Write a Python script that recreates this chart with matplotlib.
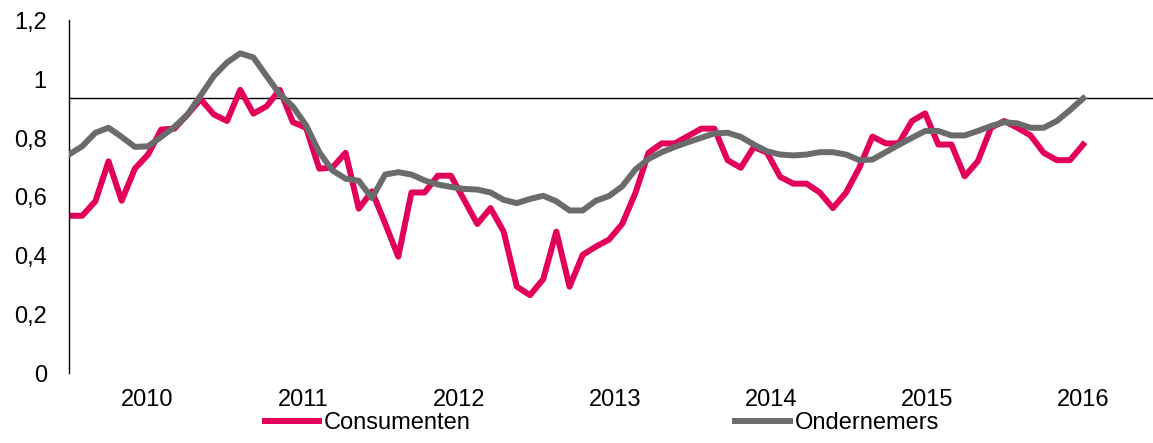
"""Consumenten vs Ondernemers indicator, monthly, 2009-2016."""

import matplotlib

matplotlib.use("Agg")
import matplotlib.pyplot as plt
import numpy as np

years = ["2010", "2011", "2012", "2013", "2014", "2015", "2016"]

consumenten = [
    0.536, 0.536, 0.585, 0.721, 0.587, 0.696, 0.744, 0.829, 0.832, 0.880,
    0.932, 0.880, 0.858, 0.964, 0.883, 0.908, 0.964, 0.854, 0.835, 0.696,
    0.700, 0.750, 0.560, 0.619, 0.510, 0.397, 0.615, 0.615, 0.672, 0.672,
    0.590, 0.508, 0.562, 0.482, 0.295, 0.266, 0.320, 0.482, 0.295, 0.403,
    0.431, 0.455, 0.508, 0.613, 0.750, 0.782, 0.782, 0.807, 0.832, 0.832,
    0.725, 0.699, 0.770, 0.750, 0.668, 0.645, 0.645, 0.615, 0.562, 0.615,
    0.699, 0.805, 0.782, 0.782, 0.858, 0.884, 0.778, 0.778, 0.670, 0.721,
    0.835, 0.858, 0.835, 0.809, 0.750, 0.725, 0.725, 0.778,
]

ondernemers = [
    0.744, 0.772, 0.818, 0.835, 0.804, 0.770, 0.772, 0.804, 0.838, 0.880,
    0.945, 1.011, 1.057, 1.088, 1.074, 1.011, 0.949, 0.907, 0.843, 0.752,
    0.690, 0.662, 0.655, 0.596, 0.676, 0.684, 0.676, 0.656, 0.642, 0.634,
    0.627, 0.625, 0.615, 0.590, 0.579, 0.593, 0.604, 0.585, 0.554, 0.554,
    0.587, 0.603, 0.636, 0.693, 0.729, 0.752, 0.770, 0.786, 0.801, 0.816,
    0.818, 0.804, 0.778, 0.755, 0.744, 0.741, 0.744, 0.752, 0.752, 0.744,
    0.725, 0.727, 0.752, 0.777, 0.801, 0.824, 0.824, 0.809, 0.809, 0.824,
    0.841, 0.854, 0.850, 0.835, 0.835, 0.858, 0.895, 0.935,
]

reference_level = 0.935

PINK = "#E3005A"
GREY = "#6B6B6B"


def main():
    plt.rcParams["font.family"] = ["Liberation Sans", "DejaVu Sans"]
    plt.rcParams["font.size"] = 17

    fig = plt.figure(figsize=(11.53, 4.43), dpi=100)
    ax = fig.add_axes([69 / 1153, 0.157, 1 - 69 / 1153, 0.797])

    x = np.arange(len(consumenten))
    ax.axhline(reference_level, color="black", lw=1.0, zorder=1)
    ax.plot(x, consumenten, color=PINK, lw=4.3, label="Consumenten", zorder=2)
    ax.plot(x, ondernemers, color=GREY, lw=4.3, label="Ondernemers", zorder=3)

    ax.set_xlim(0, 82.3)
    ax.set_ylim(0, 1.2)

    yticks = np.arange(0, 1.21, 0.2)
    ax.set_yticks(yticks)
    ax.set_yticklabels(["0" if t == 0 else f"{t:g}".replace(".", ",") for t in yticks])
    ax.set_xticks(np.linspace(5.9, 77, len(years)))
    ax.set_xticklabels(years)
    ax.tick_params(axis="y", length=0, pad=16)
    ax.tick_params(axis="x", length=0, pad=11)

    for side in ("top", "right", "bottom"):
        ax.spines[side].set_visible(False)
    ax.spines["left"].set_linewidth(1.0)

    fig.legend(
        loc="center",
        bbox_to_anchor=(602 / 1153, 1 - 423 / 443),
        ncol=2,
        frameon=False,
        handlelength=2.3,
        handletextpad=0.2,
        columnspacing=11.2,
        borderpad=0,
        borderaxespad=0,
    )

    fig.savefig("out.png", dpi=100)


if __name__ == "__main__":
    main()
